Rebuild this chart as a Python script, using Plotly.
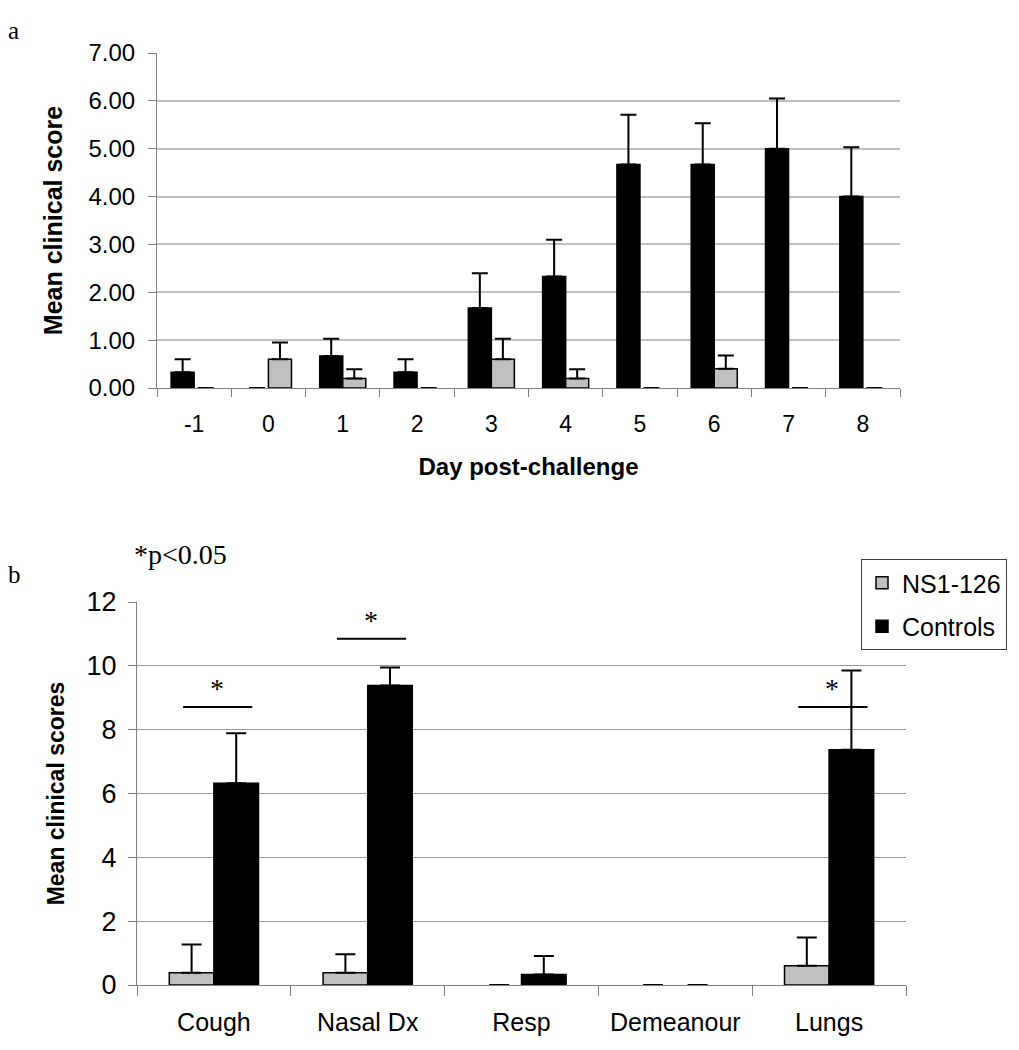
import plotly.graph_objects as go

# ---- Panel a data ----
days = ["-1", "0", "1", "2", "3", "4", "5", "6", "7", "8"]
a_controls = [0.33, 0.0, 0.67, 0.33, 1.67, 2.33, 4.67, 4.67, 5.0, 4.0]
a_controls_err = [0.27, 0.0, 0.36, 0.27, 0.73, 0.77, 1.04, 0.86, 1.05, 1.03]
a_ns1 = [0.0, 0.6, 0.2, 0.0, 0.6, 0.2, 0.0, 0.4, 0.0, 0.0]
a_ns1_err = [0.0, 0.35, 0.19, 0.0, 0.43, 0.19, 0.0, 0.28, 0.0, 0.0]
a_yticks = [0, 1, 2, 3, 4, 5, 6, 7]

# ---- Panel b data ----
signs = ["Cough", "Nasal Dx", "Resp", "Demeanour", "Lungs"]
b_ns1 = [0.38, 0.38, 0.0, 0.0, 0.6]
b_ns1_err = [0.89, 0.58, 0.0, 0.0, 0.89]
b_controls = [6.32, 9.38, 0.33, 0.0, 7.37]
b_controls_err = [1.57, 0.57, 0.58, 0.0, 2.48]
b_yticks = [0, 2, 4, 6, 8, 10, 12]
sig_categories = ["Cough", "Nasal Dx", "Lungs"]
sig_heights = [8.71, 10.85, 8.71]

GREY = "#c0c0c0"
FONT = "Liberation Sans, Arial, sans-serif"
SERIF = "Liberation Serif, Times New Roman, serif"

# page body has an 8px margin; figure is sized/positioned to compensate
OFF = 8
W, H = 1019 - OFF, 1050 - OFF

def px_x(p):
    return (p - OFF) / W

def px_y(p):
    return 1 - (p - OFF) / H

def outline(values):
    # zero-height bars show no outline (only the error-bar cap remains)
    return [1.5 if v > 0 else 0 for v in values]

fig = go.Figure()

# Panel a: controls (black, left) then NS1-126 (grey, right)
wa = 0.31
fig.add_trace(go.Bar(
    x=days, y=a_controls, name="Controls", showlegend=False,
    marker=dict(color="black", line=dict(color="black", width=outline(a_controls))),
    width=wa, offset=-wa,
    error_y=dict(type="data", array=a_controls_err, arrayminus=[0] * len(days),
                 symmetric=False, color="black", thickness=2, width=8),
    xaxis="x", yaxis="y"))
fig.add_trace(go.Bar(
    x=days, y=a_ns1, name="NS1-126", showlegend=False,
    marker=dict(color=GREY, line=dict(color="black", width=outline(a_ns1))),
    width=wa, offset=0,
    error_y=dict(type="data", array=a_ns1_err, arrayminus=[0] * len(days),
                 symmetric=False, color="black", thickness=2, width=8),
    xaxis="x", yaxis="y"))

# Panel b: NS1-126 (grey, left) then controls (black, right)
wb = 0.29
fig.add_trace(go.Bar(
    x=signs, y=b_ns1, name="NS1-126", showlegend=True, legendgroup="g1",
    marker=dict(color=GREY, line=dict(color="black", width=outline(b_ns1))),
    width=wb, offset=-wb,
    error_y=dict(type="data", array=b_ns1_err, arrayminus=[0] * len(signs),
                 symmetric=False, color="black", thickness=2, width=10),
    xaxis="x2", yaxis="y2"))
fig.add_trace(go.Bar(
    x=signs, y=b_controls, name="Controls", showlegend=True, legendgroup="g2",
    marker=dict(color="black", line=dict(color="black", width=outline(b_controls))),
    width=wb, offset=0,
    error_y=dict(type="data", array=b_controls_err, arrayminus=[0] * len(signs),
                 symmetric=False, color="black", thickness=2, width=10),
    xaxis="x2", yaxis="y2"))

shapes = []
annotations = []
for cat, h in zip(sig_categories, sig_heights):
    i = signs.index(cat)
    shapes.append(dict(type="line", xref="x2", yref="y2",
                       x0=i - 0.2, x1=i + 0.25, y0=h, y1=h,
                       line=dict(color="black", width=2)))
    annotations.append(dict(xref="x2", yref="y2", x=i + 0.02, y=h,
                            text="*", showarrow=False, yanchor="bottom", yshift=1,
                            font=dict(family=SERIF, size=28, color="black")))

annotations += [
    dict(xref="paper", yref="paper", x=px_x(6), y=px_y(30), text="a",
         showarrow=False, xanchor="left", yanchor="middle",
         font=dict(family=SERIF, size=25, color="black")),
    dict(xref="paper", yref="paper", x=px_x(6), y=px_y(574), text="b",
         showarrow=False, xanchor="left", yanchor="middle",
         font=dict(family=SERIF, size=25, color="black")),
    dict(xref="paper", yref="paper", x=px_x(132), y=px_y(554), text="*p<0.05",
         showarrow=False, xanchor="left", yanchor="middle",
         font=dict(family=SERIF, size=28, color="black")),
]

fig.update_layout(
    width=W, height=H,
    margin=dict(l=0, r=0, t=0, b=0, autoexpand=False),
    paper_bgcolor="white", plot_bgcolor="white",
    font=dict(family=FONT, color="black"),
    barmode="overlay",
    shapes=shapes,
    annotations=annotations,
    legend=dict(x=px_x(861), y=px_y(559), xanchor="left", yanchor="top",
                bordercolor="#404040", borderwidth=1, bgcolor="white",
                font=dict(family=FONT, size=25, color="black"),
                tracegroupgap=8, itemwidth=30),
    xaxis=dict(domain=[px_x(157), px_x(900)], type="category", automargin=False,
               showline=True, linecolor="#808080", linewidth=1,
               ticks="outside", tickson="boundaries", ticklen=8, tickcolor="#808080",
               showgrid=False, tickfont=dict(size=23), ticklabelstandoff=15,
               title=dict(text="<b>Day post-challenge</b>", font=dict(size=24), standoff=22),
               anchor="y"),
    yaxis=dict(domain=[px_y(388), px_y(53)], range=[0, 7], automargin=False,
               tickvals=a_yticks, tickformat=".2f",
               showline=True, linecolor="#808080", linewidth=1,
               ticks="outside", ticklen=8, tickcolor="#808080",
               showgrid=True, gridcolor="#c0c0c0", gridwidth=1.5,
               zeroline=False, tickfont=dict(size=24), ticklabelstandoff=8,
               title=dict(text="<b>Mean clinical score</b>", font=dict(size=25), standoff=18),
               anchor="x"),
    xaxis2=dict(domain=[px_x(137), px_x(906)], type="category", automargin=False,
                showline=True, linecolor="#808080", linewidth=1,
                ticks="outside", tickson="boundaries", ticklen=10, tickcolor="#808080",
                showgrid=False, tickfont=dict(size=25), ticklabelstandoff=15,
                anchor="y2"),
    yaxis2=dict(domain=[px_y(985), px_y(602)], range=[0, 12], automargin=False,
                tickvals=b_yticks,
                showline=True, linecolor="#808080", linewidth=1,
                ticks="outside", ticklen=8, tickcolor="#808080",
                showgrid=True, gridcolor="#999999", gridwidth=1,
                zeroline=False, tickfont=dict(size=27), ticklabelstandoff=6,
                title=dict(text="<b>Mean clinical scores</b>", font=dict(size=23), standoff=15),
                anchor="x2"),
)

fig.write_html("out.html")
